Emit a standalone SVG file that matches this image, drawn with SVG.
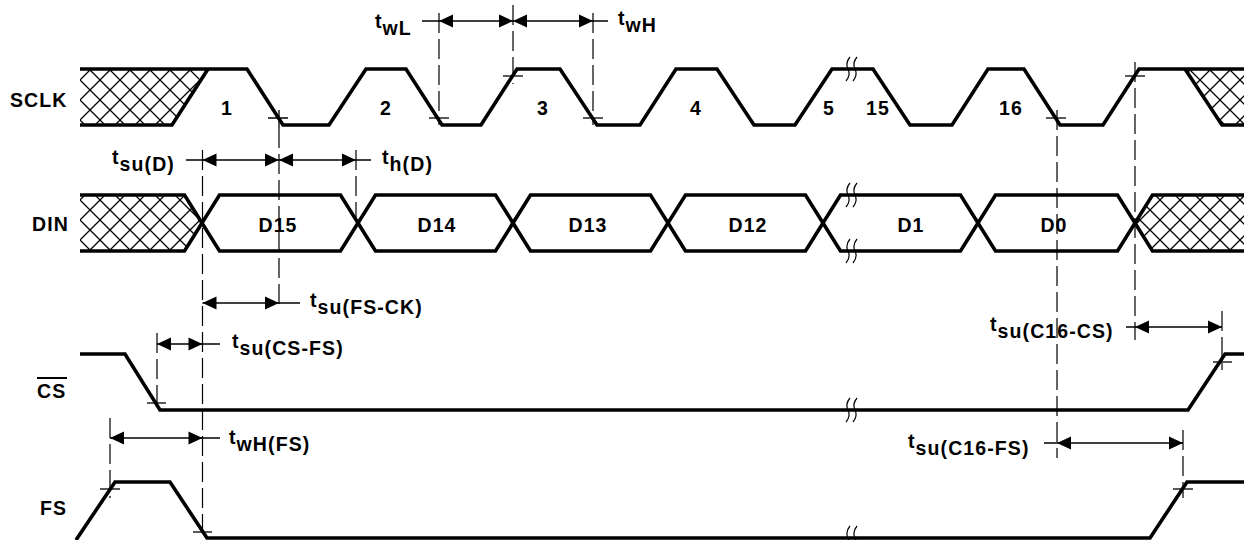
<svg xmlns="http://www.w3.org/2000/svg" width="1244" height="540" viewBox="0 0 1244 540">
<defs>
<pattern id="hatch" patternUnits="userSpaceOnUse" width="20" height="20" x="0" y="0"><path d="M-2,-2 L22,22 M22,-2 L-2,22" stroke="#000" stroke-width="1.3" fill="none"/></pattern>
<path id="aL" d="M0,0 L14,-6.5 L14,6.5 Z" fill="#000"/>
<path id="aR" d="M0,0 L-14,-6.5 L-14,6.5 Z" fill="#000"/>
</defs>
<style>
.sig{fill:none;stroke:#000;stroke-width:3.6;stroke-linejoin:miter}
.dim{fill:none;stroke:#000;stroke-width:1.3}
.dash{fill:none;stroke:#000;stroke-width:1.2;stroke-dasharray:20 6}
.tick{fill:none;stroke:#000;stroke-width:1.3}
.brk{fill:none;stroke:#000;stroke-width:1.2}
text{font-family:"Liberation Sans",Arial,Helvetica,sans-serif;font-weight:bold;font-size:19.5px;letter-spacing:1.1px;fill:#000}
.num{text-anchor:middle}
</style>
<rect width="1244" height="540" fill="#fff"/>

<g id="sclk">
<polygon points="80,69 208,69 172,125 80,125" fill="url(#hatch)"/>
<polygon points="1185,69 1244,69 1244,125 1222,125" fill="url(#hatch)"/>
<path class="sig" d="M80,69 H247 L283,125 H329 L366,69 H406 L442,125 H481 L517,69 H560 L597,125 H640 L676,69 H717 L754,125 H795 L832,69 H873 L910,125 H952 L988,69 H1024 L1060,125 H1103 L1139,69 H1244"/>
<path class="sig" d="M80,125 H172 L208,69"/>
<path class="sig" d="M1185,69 L1222,125 H1244"/>
<path class="brk" d="M850,57 Q845,63 848,69 Q851,75 846,81 M857,57 Q852,63 855,69 Q858,75 853,81"/>
<text x="10" y="107">SCLK</text>
<text class="num" x="227" y="115">1</text>
<text class="num" x="386" y="115">2</text>
<text class="num" x="543" y="115">3</text>
<text class="num" x="696" y="115">4</text>
<text class="num" x="829" y="115">5</text>
<text class="num" x="878" y="115">15</text>
<text class="num" x="1011" y="115">16</text>
</g>

<g id="din">
<polygon points="80,195 184.5,195 202,223 184.5,251 80,251" fill="url(#hatch)"/>
<polygon points="1135,223 1152.5,195 1244,195 1244,251 1152.5,251" fill="url(#hatch)"/>
<path class="sig" d="M80,195 H184.5 L219.5,251 H340.5 L375.5,195 H495.5 L530.5,251 H650.5 L685.5,195 H805.5 L840.5,251 H960.5 L995.5,195 H1117.5 L1152.5,251 H1244"/>
<path class="sig" d="M80,251 H184.5 L219.5,195 H340.5 L375.5,251 H495.5 L530.5,195 H650.5 L685.5,251 H805.5 L840.5,195 H960.5 L995.5,251 H1117.5 L1152.5,195 H1244"/>
<path class="brk" d="M850,183 Q845,189 848,195 Q851,201 846,207 M857,183 Q852,189 855,195 Q858,201 853,207"/>
<path class="brk" d="M850,239 Q845,245 848,251 Q851,257 846,263 M857,239 Q852,245 855,251 Q858,257 853,263"/>
<text x="32" y="231">DIN</text>
<text class="num" x="278" y="232">D15</text>
<text class="num" x="437" y="232">D14</text>
<text class="num" x="588" y="232">D13</text>
<text class="num" x="748" y="232">D12</text>
<text class="num" x="911" y="232">D1</text>
<text class="num" x="1054" y="232">D0</text>
</g>

<g id="cs">
<path class="sig" d="M80,354 H125 L160,410 H1188 L1225,354 H1244"/>
<path class="brk" d="M850,398 Q845,404 848,410 Q851,416 846,422 M857,398 Q852,404 855,410 Q858,416 853,422"/>
<text x="37" y="398">CS</text>
<line x1="37" y1="378" x2="67" y2="378" stroke="#000" stroke-width="2"/>
</g>

<g id="fs">
<path class="sig" d="M76,540 L115,482 H170 L207,538 H1150 L1187,482 H1244"/>
<path class="brk" d="M850,526 Q845,532 848,538 Q851,544 846,550 M857,526 Q852,532 855,538 Q858,544 853,550"/>
<text x="40" y="515">FS</text>
</g>

<g id="connectors">
<line class="dash" x1="202.5" y1="150" x2="202.5" y2="537"/>
<line class="dash" x1="279" y1="128" x2="279" y2="308"/>
<line class="dash" x1="356" y1="150" x2="356" y2="222"/>
<line class="dash" x1="439" y1="13" x2="439" y2="125"/>
<line class="dash" x1="513" y1="5" x2="513" y2="84"/>
<line class="dash" x1="593" y1="13" x2="593" y2="125"/>
<line class="dash" x1="1057" y1="110" x2="1057" y2="458"/>
<line class="dash" x1="1135" y1="62" x2="1135" y2="340"/>
<line class="dash" x1="1222" y1="311" x2="1222" y2="370"/>
<line class="dash" x1="1183" y1="430" x2="1183" y2="498"/>
<line class="dash" x1="157" y1="333" x2="157" y2="410"/>
<line class="dash" x1="110" y1="418" x2="110" y2="498"/>

<path class="tick" d="M268,118 H288 M279,110 V128"/>
<path class="tick" d="M429,118 H449"/>
<path class="tick" d="M503,76 H523"/>
<path class="tick" d="M583,118 H603"/>
<path class="tick" d="M1046,118 H1066"/>
<path class="tick" d="M1125,76 H1145"/>
<path class="tick" d="M147,403 H166"/>
<path class="tick" d="M1213,362 H1232"/>
<path class="tick" d="M100,489 H120"/>
<path class="tick" d="M193,532 H212"/>
<path class="tick" d="M1173,489 H1193"/>

<line class="dim" x1="422" y1="21" x2="608" y2="21"/>
<use href="#aL" x="439" y="21"/>
<use href="#aR" x="513" y="21"/>
<use href="#aL" x="513" y="21"/>
<use href="#aR" x="593" y="21"/>
<text x="375" y="28">t<tspan dy="7">wL</tspan></text>
<text x="618" y="25">t<tspan dy="7">wH</tspan></text>

<line class="dim" x1="186" y1="160" x2="371" y2="160"/>
<use href="#aL" x="202.5" y="160"/>
<use href="#aR" x="279" y="160"/>
<use href="#aL" x="279" y="160"/>
<use href="#aR" x="356" y="160"/>
<text x="112" y="164">t<tspan dy="7">su(D)</tspan></text>
<text x="382" y="164">t<tspan dy="7">h(D)</tspan></text>

<line class="dim" x1="202.5" y1="303" x2="300" y2="303"/>
<use href="#aL" x="202.5" y="303"/>
<use href="#aR" x="279" y="303"/>
<text x="310" y="307">t<tspan dy="7">su(FS-CK)</tspan></text>

<line class="dim" x1="157" y1="344" x2="220" y2="344"/>
<use href="#aL" x="157" y="344"/>
<use href="#aR" x="202.5" y="344"/>
<text x="232" y="348">t<tspan dy="7">su(CS-FS)</tspan></text>

<line class="dim" x1="110" y1="438" x2="220" y2="438"/>
<use href="#aL" x="110" y="438"/>
<use href="#aR" x="202.5" y="438"/>
<text x="229" y="444">t<tspan dy="7">wH(FS)</tspan></text>

<line class="dim" x1="1126" y1="327" x2="1222" y2="327"/>
<use href="#aL" x="1135" y="327"/>
<use href="#aR" x="1222" y="327"/>
<text x="990" y="331">t<tspan dy="7">su(C16-CS)</tspan></text>

<line class="dim" x1="1044" y1="443" x2="1183" y2="443"/>
<use href="#aL" x="1057" y="443"/>
<use href="#aR" x="1183" y="443"/>
<text x="908" y="448">t<tspan dy="7">su(C16-FS)</tspan></text>
</g>
</svg>
